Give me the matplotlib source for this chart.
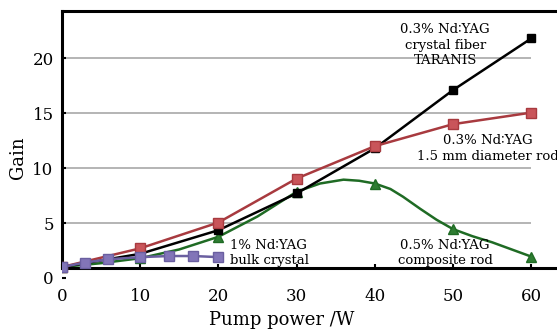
import numpy as np
import matplotlib.pyplot as plt

# values
x_main = [0, 10, 20, 30, 40, 50, 60]
gain_fiber = [1.0, 2.2, 4.35, 7.7, 11.8, 17.1, 21.8]
gain_rod15 = [1.0, 2.7, 5.05, 9.05, 12.0, 14.0, 15.05]
gain_comp = [1.0, 1.8, 3.75, 7.85, 8.6, 4.45, 1.95]

# green curve traced more densely (no markers)
x_comp_line = [0, 5, 10, 15, 20, 25, 30, 33, 36, 38, 40, 42, 43.6, 45.8, 47.9, 50, 52.5, 55, 57.5, 60]
gain_comp_line = [1.0, 1.35, 1.8, 2.6, 3.75, 5.6, 7.85, 8.6, 8.95, 8.85, 8.6, 8.1, 7.4, 6.3, 5.3,
                  4.45, 3.8, 3.25, 2.6, 1.95]

x_bulk = [0, 2.9, 5.9, 10, 13.7, 16.8, 20]
gain_bulk = [1.0, 1.4, 1.7, 1.9, 2.0, 2.0, 1.9]

yticks = [0, 5, 10, 15, 20]
xticks = [0, 10, 20, 30, 40, 50, 60]

plt.rcParams['font.family'] = ['DejaVu Serif', 'DejaVu Sans']

fig = plt.figure(figsize=(5.57, 3.30), dpi=100)
ax = fig.add_axes([62 / 557, 52 / 330, 495 / 557, 267 / 330])

ax.set_xlim(0, 63.3)
ax.set_ylim(0, 24.3)

# grid lines only up to x = 60
ax.hlines(yticks[1:], 0, 60, color='#b4b4b4', lw=1.4, zorder=1)

ax.plot(x_main, gain_fiber, color='black', lw=1.8, marker='s', ms=6,
        mfc='black', mec='black', zorder=3)
ax.plot(x_main, gain_rod15, color='#a83a3f', lw=1.8, marker='s', ms=6.5,
        mfc='#c9555a', mec='#a83a3f', zorder=4)
ax.plot(x_comp_line, gain_comp_line, color='#1f6b24', lw=1.8, zorder=2)
ax.plot(x_main, gain_comp, ls='none', marker='^', ms=6.5,
        mfc='#2e7d32', mec='#1f6b24', zorder=2)
ax.plot(x_bulk, gain_bulk, color='#6a5fa0', lw=1.8, marker='s', ms=6.5,
        mfc='#8275b8', mec='#6a5fa0', zorder=5)

for s in ['left', 'bottom', 'top']:
    ax.spines[s].set_linewidth(2.2)
    ax.spines[s].set_color('black')
ax.spines['right'].set_visible(False)
ax.spines['bottom'].set_position(('data', 0.9))
ax.spines['left'].set_bounds(0.9, 24.3)

ax.set_xticks(xticks)
ax.set_yticks(yticks)
ax.tick_params(axis='both', direction='in', length=3, width=1.5, labelsize=12)
ax.tick_params(axis='x', pad=14)
ax.tick_params(axis='y', pad=6)

ax.set_xlabel('Pump power /W', fontsize=13)
ax.xaxis.set_label_coords(0.444, -0.125)
ax.set_ylabel('Gain', fontsize=13)
ax.yaxis.set_label_coords(-0.07, 0.45)

fs = 9.5
ax.text(49, 21.2, '0.3% Nd\u2236YAG\ncrystal fiber\nTARANIS', ha='center', va='center',
        fontsize=fs, linespacing=1.25)
ax.text(54.4, 11.8, '0.3% Nd\u2236YAG\n1.5 mm diameter rod', ha='center', va='center',
        fontsize=fs, linespacing=1.25)
ax.text(21.5, 1.0, '1% Nd\u2236YAG\nbulk crystal', ha='left', va='bottom',
        fontsize=fs, linespacing=1.2, zorder=6)
ax.text(49, 1.0, '0.5% Nd\u2236YAG\ncomposite rod', ha='center', va='bottom',
        fontsize=fs, linespacing=1.2, zorder=6)

fig.savefig('out.png', dpi=100)
